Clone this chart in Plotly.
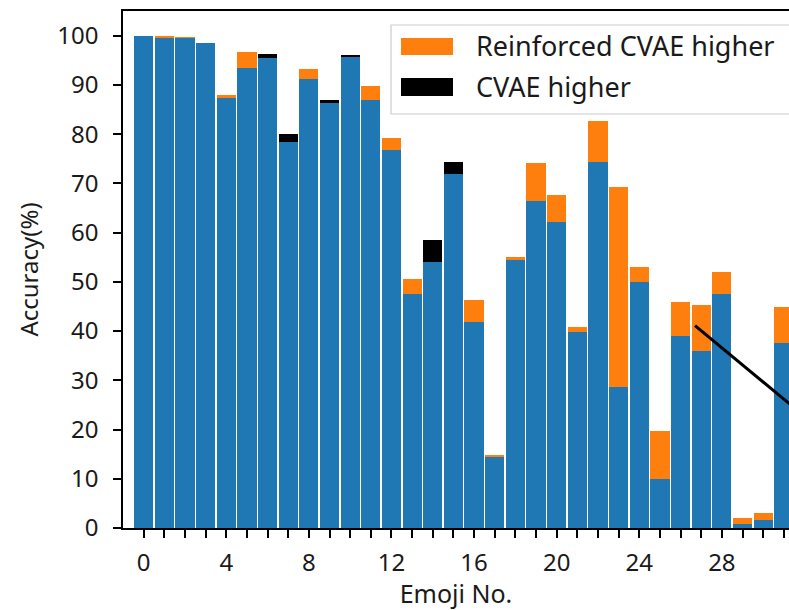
import plotly.graph_objects as go

# ---- data ----
emoji_no = list(range(32))
cvae_acc = [100.0, 99.6, 99.6, 98.6, 87.5, 93.4, 96.2, 80.0, 91.2, 86.9,
            96.1, 87.0, 76.8, 47.5, 58.5, 74.4, 41.8, 14.5, 54.6, 66.5,
            62.1, 39.8, 74.4, 28.7, 50.0, 9.9, 39.0, 36.0, 47.6, 0.8,
            1.6, 37.5]
reinforced_acc = [100.0, 100.0, 99.7, 98.6, 87.9, 96.7, 95.4, 78.4, 93.3, 86.3,
                  95.6, 89.7, 79.2, 50.5, 54.0, 71.9, 46.4, 14.7, 55.0, 74.2,
                  67.6, 40.9, 82.7, 69.3, 53.0, 19.6, 45.8, 45.2, 52.0, 2.0,
                  3.0, 44.9]
series_names = ["Reinforced CVAE higher", "CVAE higher"]
y_ticks = list(range(0, 101, 10))
x_tick_labels = [str(i) if i % 4 == 0 else "" for i in emoji_no]
x_title = "Emoji No."
y_title = "Accuracy(%)"
# trend line (annotation) end points
line_x = [26.7, 32.0]
line_y = [41.1, 22.7]

BLUE = "#1f77b4"
ORANGE = "#ff7f0e"
BLACK = "#000000"
FONT = "Noto Sans"
TXT = "#1a1a1a"

base = [min(a, b) for a, b in zip(cvae_acc, reinforced_acc)]
orange_part = [max(r - c, 0) for c, r in zip(cvae_acc, reinforced_acc)]
black_part = [max(c - r, 0) for c, r in zip(cvae_acc, reinforced_acc)]

fig = go.Figure()
fig.add_bar(x=emoji_no, y=base, marker=dict(color=BLUE, line=dict(width=0)),
            width=0.93, showlegend=False, name="common")
fig.add_bar(x=emoji_no, y=orange_part, marker=dict(color=ORANGE, line=dict(width=0)),
            width=0.93, showlegend=False, name=series_names[0])
fig.add_bar(x=emoji_no, y=black_part, marker=dict(color=BLACK, line=dict(width=0)),
            width=0.93, showlegend=False, name=series_names[1])
fig.add_scatter(x=line_x, y=line_y, mode="lines", line=dict(color="black", width=3),
                showlegend=False, hoverinfo="skip")

W, H = 789, 610
L, R, T, B = 123, 0, 11, 82
PW = W - L - R
PH = H - T - B


def px(x):
    return (x - L) / PW


def py(y):
    return (H - B - y) / PH


# manual legend (box partially cropped by the figure edge, like the reference)
shapes = [
    dict(type="rect", xref="paper", yref="paper", x0=px(391), x1=px(830),
         y0=py(114), y1=py(25), line=dict(color="#cccccc", width=1.2),
         fillcolor="rgba(255,255,255,0.85)", layer="above"),
    dict(type="rect", xref="paper", yref="paper", x0=px(401), x1=px(453),
         y0=py(55), y1=py(38), line=dict(width=0), fillcolor=ORANGE, layer="above"),
    dict(type="rect", xref="paper", yref="paper", x0=px(401), x1=px(453),
         y0=py(96), y1=py(78), line=dict(width=0), fillcolor=BLACK, layer="above"),
]
annotations = [
    dict(xref="paper", yref="paper", x=px(474), y=py(46), text=series_names[0],
         showarrow=False, xanchor="left", yanchor="middle",
         font=dict(family=FONT, size=27, color=TXT)),
    dict(xref="paper", yref="paper", x=px(474), y=py(87), text=series_names[1],
         showarrow=False, xanchor="left", yanchor="middle",
         font=dict(family=FONT, size=27, color=TXT)),
]

fig.update_layout(
    width=W, height=H,
    margin=dict(l=L, r=R, t=T, b=B, pad=0),
    barmode="stack", bargap=0,
    plot_bgcolor="white", paper_bgcolor="white",
    font=dict(family=FONT, size=24, color=TXT),
    shapes=shapes, annotations=annotations,
    xaxis=dict(range=[-1.0, 31.25], tickmode="array", tickvals=emoji_no,
               ticktext=x_tick_labels, ticks="outside", ticklen=8, tickwidth=1.5,
               tickcolor="black", showline=True, linecolor="black", linewidth=1.5,
               mirror=True, showgrid=False, zeroline=False, automargin=False,
               title=dict(text=x_title, standoff=10, font=dict(size=25)),
               tickfont=dict(size=24), ticklabelstandoff=4),
    yaxis=dict(range=[0, 105], tickmode="array", tickvals=y_ticks,
               ticks="outside", ticklen=8, tickwidth=1.5, tickcolor="black",
               showline=True, linecolor="black", linewidth=1.5, mirror=False,
               showgrid=False, zeroline=False, automargin=False,
               title=dict(text=y_title, standoff=12, font=dict(size=24)),
               tickfont=dict(size=24), ticklabelstandoff=10),
)

fig.write_html(
    "out.html",
    config={"displayModeBar": False},
    post_script="document.body.style.margin='0';document.body.style.overflow='hidden';",
)
